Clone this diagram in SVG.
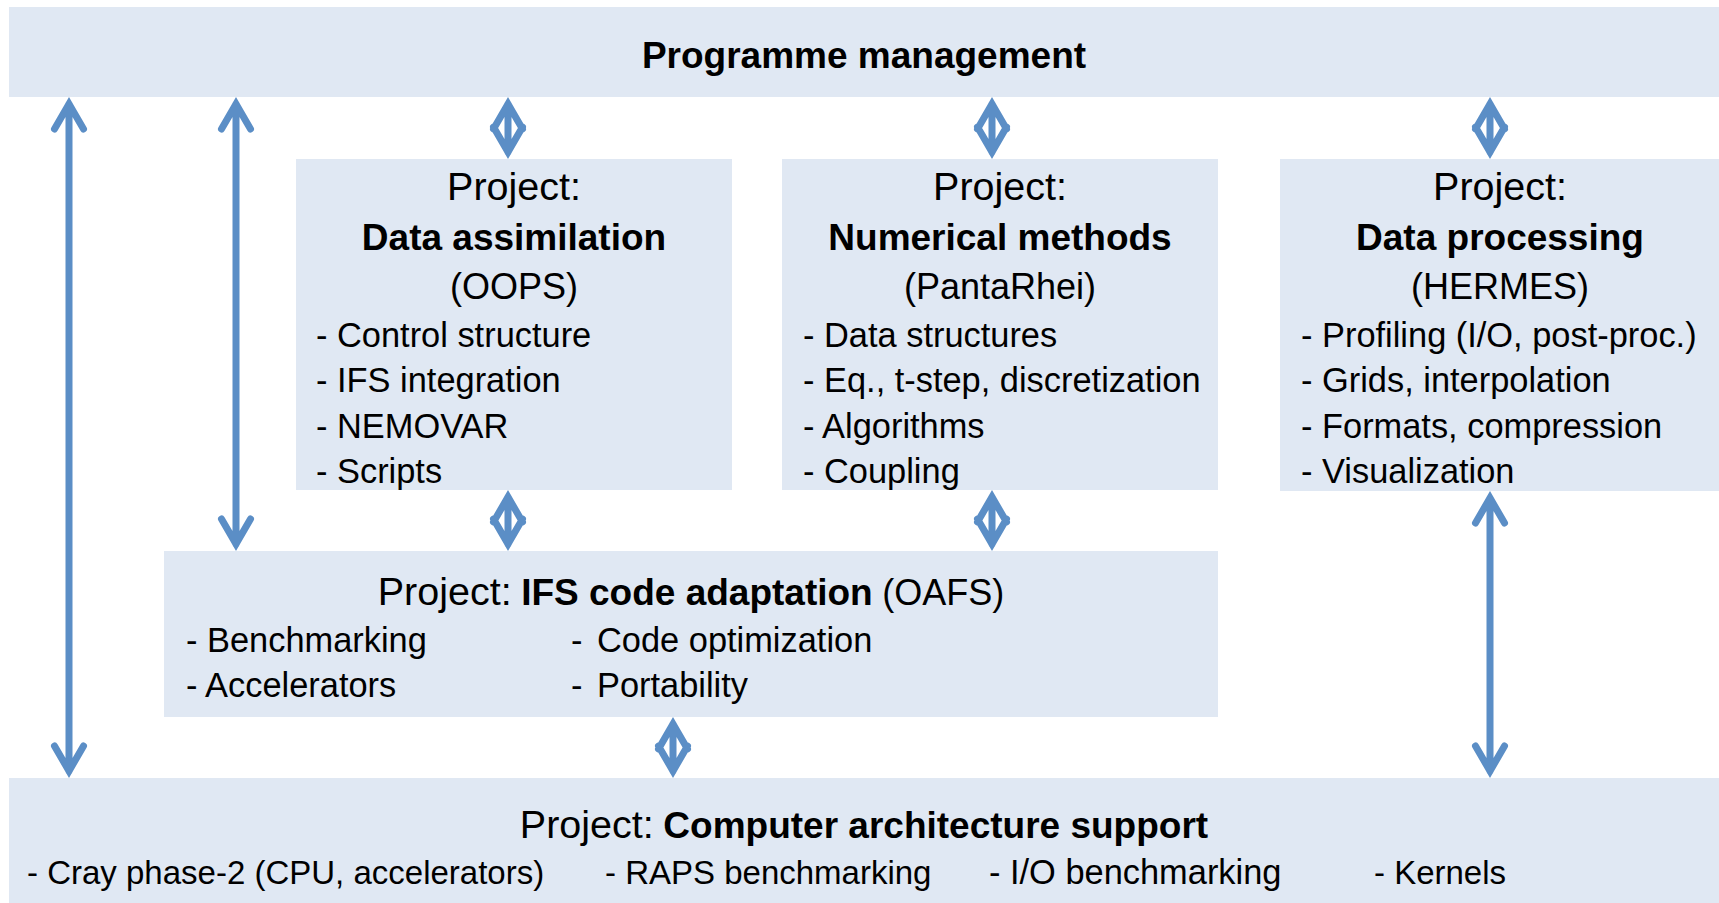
<svg xmlns="http://www.w3.org/2000/svg" width="1719" height="903" viewBox="0 0 1719 903">
<style>
.box{fill:#E0E8F3;stroke:none}
.t{font-family:"Liberation Sans",Arial,sans-serif;font-size:34.4px;fill:#000}
.s{font-size:33px}
.p{font-size:39.5px}
.q{font-size:36px}
.b{font-family:"Liberation Sans",Arial,sans-serif;font-size:37px;font-weight:bold;fill:#000}
.c{text-anchor:middle}
.arr{fill:none;stroke:#5B8EC6;stroke-width:7;stroke-linecap:round;stroke-linejoin:miter;stroke-miterlimit:6}
</style>
<rect width="1719" height="903" fill="#FFFFFF"/>
<g id="programme-management">
<rect class="box" x="9" y="7" width="1710" height="90"/>
<text class="b c" x="864" y="68">Programme management</text>
</g>
<g id="data-assimilation">
<rect class="box" x="296" y="159" width="436" height="331"/>
<text class="t p c" x="514" y="200">Project:</text>
<text class="b c" x="514" y="250">Data assimilation</text>
<text class="t q c" x="514" y="299">(OOPS)</text>
<text class="t" x="316" y="347">- Control structure</text>
<text class="t" x="316" y="392">- IFS integration</text>
<text class="t" x="316" y="438">- NEMOVAR</text>
<text class="t" x="316" y="483">- Scripts</text>
</g>
<g id="numerical-methods">
<rect class="box" x="782" y="159" width="436" height="331"/>
<text class="t p c" x="1000" y="200">Project:</text>
<text class="b c" x="1000" y="250">Numerical methods</text>
<text class="t q c" x="1000" y="299">(PantaRhei)</text>
<text class="t" x="803" y="347">- Data structures</text>
<text class="t" x="803" y="392">- Eq., t-step, discretization</text>
<text class="t" x="803" y="438">- Algorithms</text>
<text class="t" x="803" y="483">- Coupling</text>
</g>
<g id="data-processing">
<rect class="box" x="1280" y="159" width="439" height="332"/>
<text class="t p c" x="1500" y="200">Project:</text>
<text class="b c" x="1500" y="250">Data processing</text>
<text class="t q c" x="1500" y="299">(HERMES)</text>
<text class="t" x="1301" y="347">- Profiling (I/O, post-proc.)</text>
<text class="t" x="1301" y="392">- Grids, interpolation</text>
<text class="t" x="1301" y="438">- Formats, compression</text>
<text class="t" x="1301" y="483">- Visualization</text>
</g>
<g id="ifs-code-adaptation">
<rect class="box" x="164" y="551" width="1054" height="166"/>
<text class="t c" x="691" y="605"><tspan class="p">Project:</tspan> <tspan class="b">IFS code adaptation</tspan> <tspan class="q">(OAFS)</tspan></text>
<text class="t" x="186" y="652">- Benchmarking</text>
<text class="t" x="186" y="697">- Accelerators</text>
<text class="t" x="571" y="652">-<tspan x="597">Code optimization</tspan></text>
<text class="t" x="571" y="697">-<tspan x="597">Portability</tspan></text>
</g>
<g id="computer-architecture-support">
<rect class="box" x="9" y="778" width="1710" height="125"/>
<text class="t c" x="864" y="838"><tspan class="p">Project:</tspan> <tspan class="b">Computer architecture support</tspan></text>
<text class="t s" x="27" y="884">- Cray phase-2 (CPU, accelerators)</text>
<text class="t s" x="605" y="884">- RAPS benchmarking</text>
<text class="t" x="989" y="884">- I/O benchmarking</text>
<text class="t s" x="1374" y="884">- Kernels</text>
</g>
<g id="connectors">
<path class="arr" d="M69,104 V771 M54.5,129 L69,104 L83.5,129 M54.5,746 L69,771 L83.5,746"/>
<path class="arr" d="M236,104 V544 M221.5,129 L236,104 L250.5,129 M221.5,519 L236,544 L250.5,519"/>
<path class="arr" d="M508,104 V152 M493.5,129 L508,104 L522.5,129 M493.5,127 L508,152 L522.5,127"/>
<path class="arr" d="M992,104 V152 M977.5,129 L992,104 L1006.5,129 M977.5,127 L992,152 L1006.5,127"/>
<path class="arr" d="M1490,104 V152 M1475.5,129 L1490,104 L1504.5,129 M1475.5,127 L1490,152 L1504.5,127"/>
<path class="arr" d="M508,497 V544 M493.5,522 L508,497 L522.5,522 M493.5,519 L508,544 L522.5,519"/>
<path class="arr" d="M992,497 V544 M977.5,522 L992,497 L1006.5,522 M977.5,519 L992,544 L1006.5,519"/>
<path class="arr" d="M673,724 V771 M658.5,749 L673,724 L687.5,749 M658.5,746 L673,771 L687.5,746"/>
<path class="arr" d="M1490,498 V771 M1475.5,523 L1490,498 L1504.5,523 M1475.5,746 L1490,771 L1504.5,746"/>
</g>
</svg>
